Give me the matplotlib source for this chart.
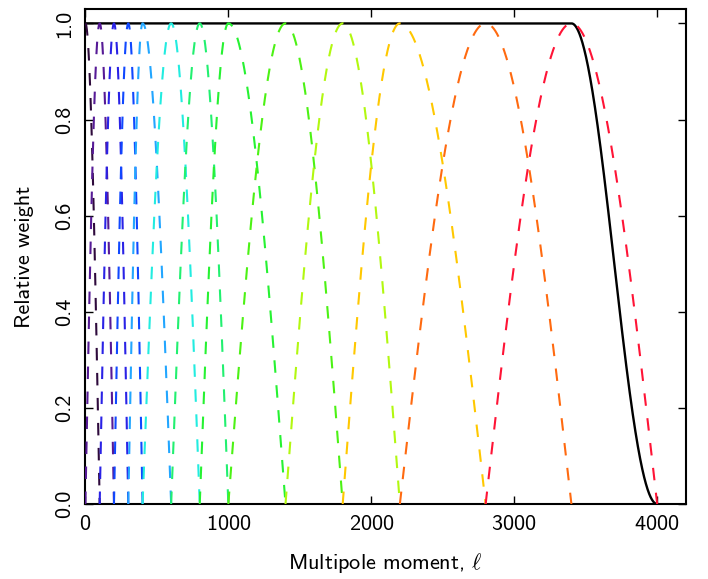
import numpy as np
import matplotlib
matplotlib.use('Agg')
import matplotlib.pyplot as plt

# band centres (multipole) of the windows, last entry is the cut-off
nodes = [0, 100, 200, 300, 400, 600, 800, 1000, 1400, 1800, 2200, 2800, 3400, 4000]
band_colors = ['#2e0a3c', '#561a96', '#2a22e6', '#1048ff', '#22a6ff', '#22ece0',
               '#22f070', '#26f232', '#4cf214', '#b2f810', '#ffc800', '#ff6a10', '#ff1436']
xticks = [0, 1000, 2000, 3000, 4000]
yticks = [0.0, 0.2, 0.4, 0.6, 0.8, 1.0]

plt.rcParams['font.family'] = 'cmss10'
plt.rcParams['mathtext.fontset'] = 'cm'
plt.rcParams['axes.formatter.use_mathtext'] = True

fig = plt.figure(figsize=(7.08, 5.79), dpi=100)
ax = fig.add_axes([0.1206, 0.1295, 0.848, 0.855])

ell = np.arange(0, nodes[-1] + 1, 1.0)
total = np.zeros_like(ell)
windows = []
for i in range(len(nodes) - 1):
    c = nodes[i]
    w = np.zeros_like(ell)
    if i > 0:
        lo = nodes[i - 1]
        m = (ell >= lo) & (ell <= c)
        w[m] = np.sin(0.5 * np.pi * (ell[m] - lo) / (c - lo))
    hi = nodes[i + 1]
    m = (ell >= c) & (ell <= hi)
    w[m] = np.cos(0.5 * np.pi * (ell[m] - c) / (hi - c))
    lo_edge = nodes[i - 1] if i > 0 else 0
    keep = (ell >= lo_edge) & (ell <= hi)
    windows.append((ell[keep], w[keep]))
    total += w ** 2

ax.plot(ell, total, color='k', lw=1.7, zorder=2)
for (x, w), col in zip(windows, band_colors):
    ax.plot(x, w, color=col, lw=1.5, dashes=(6, 6), zorder=3)

ax.set_xlim(0, 4200)
ax.set_ylim(0, 1.03)
ax.set_xticks(xticks)
ax.set_yticks(yticks)
ax.set_yticklabels(['%.1f' % v for v in yticks], rotation=90, va='center')
ax.tick_params(direction='in', length=6, width=1, top=True, right=True,
               labelsize=16, pad=8)
for s in ax.spines.values():
    s.set_linewidth(1.5)
ax.set_xlabel(r'Multipole moment, $\ell$', fontsize=16, labelpad=12)
ax.set_ylabel('Relative weight', fontsize=16, labelpad=15)

fig.savefig('out.png', dpi=100)
